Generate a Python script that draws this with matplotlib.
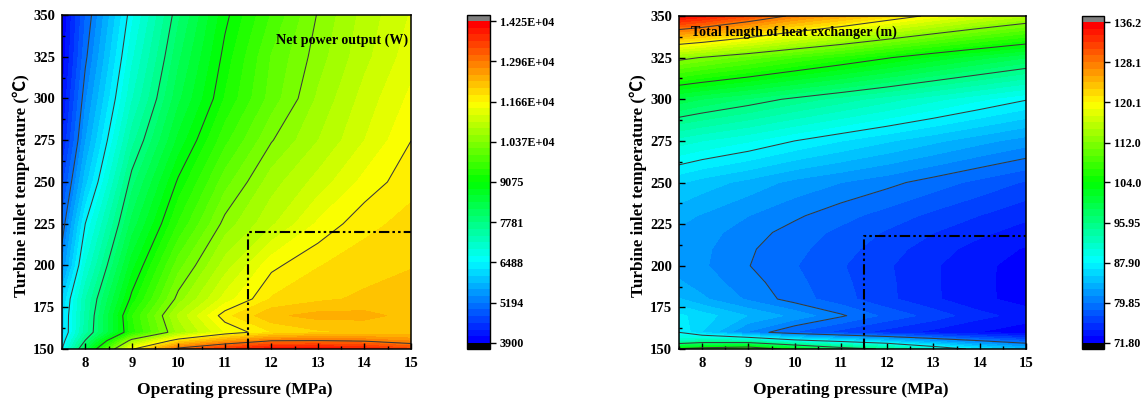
import numpy as np
import matplotlib
matplotlib.use('Agg')
import matplotlib.pyplot as plt
from matplotlib.colors import LinearSegmentedColormap
from matplotlib.ticker import MultipleLocator

pressure = [7.5, 8, 9, 10, 11, 12, 13, 14, 15]
power_temps = [150, 155, 160, 170, 180, 200, 225, 250, 275, 300, 325, 350]
length_temps = [150, 155, 160, 170, 180, 190, 200, 210, 220, 230, 250, 275, 300, 325, 350]

# net power output (W), one row per temperature
net_power = [
    [6480, 8300, 11600, 13100, 13650, 14000, 14050, 13850, 13450],
    [6300, 7800, 10550, 11900, 12500, 12940, 12960, 12900, 12700],
    [6130, 7450, 9400, 10650, 11450, 11870, 12050, 12120, 12130],
    [6140, 7380, 9485, 10835, 11800, 12260, 12390, 12380, 12230],
    [6040, 7320, 9160, 10470, 11320, 11900, 12040, 12140, 12200],
    [5400, 6911, 8763, 10062, 10900, 11600, 11866, 11990, 12080],
    [5018, 6488, 8287, 9523, 10457, 10970, 11485, 11813, 11950],
    [4670, 5955, 7905, 9128, 10060, 10700, 11100, 11519, 11810],
    [4300, 5600, 7470, 8700, 9650, 10350, 10795, 11230, 11660],
    [4100, 5360, 7104, 8370, 9306, 10030, 10620, 11100, 11500],
    [3950, 5130, 6862, 8156, 9160, 9950, 10480, 10950, 11350],
    [3910, 4970, 6640, 7950, 9000, 9740, 10390, 10880, 11250],
]

# total length of heat exchanger (m)
hx_length = [
    [104.5, 106, 107.5, 102.5, 98, 95.3, 90.5, 86.8, 84],
    [91.5, 93, 92.5, 88.9, 86.8, 84.5, 82, 79.85, 78],
    [87.9, 85.2, 81, 78.4, 76.6, 75.2, 74, 73.1, 72.2],
    [86.9, 85.9, 83.8, 82.1, 80.1, 78.1, 76.6, 74.9, 73.9],
    [84, 82.8, 80.95, 79.2, 77.7, 76.15, 74.7, 73.5, 72.5],
    [82.7, 81.9, 80.4, 78.9, 77.5, 76.1, 74.65, 73.5, 72.45],
    [81.9, 81.4, 79.9, 78.6, 77.3, 76, 74.65, 73.5, 72.5],
    [82, 81.5, 80.05, 78.9, 77.7, 76.4, 75.1, 73.9, 73],
    [82.3, 81.8, 80.45, 79.3, 78.15, 77, 75.85, 74.8, 73.85],
    [83, 82.4, 81.2, 80.1, 79, 77.9, 76.8, 75.8, 74.8],
    [85.4, 84.6, 83.4, 82.1, 81.2, 80.3, 79.2, 78.1, 77],
    [91.3, 90.6, 89.4, 87.9, 86.6, 85.4, 84.2, 83, 81.9],
    [99.5, 98.6, 97.1, 95.5, 94, 92.5, 91, 89.5, 88.05],
    [112.9, 111.9, 110, 108, 106.1, 104.2, 102.2, 100.4, 98.7],
    [135.5, 134.3, 131, 127.5, 124.9, 122, 119.4, 117, 114.9],
]

power_ticks = [3900, 5194, 6488, 7781, 9075, 10370, 11660, 12960, 14250]
power_labels = ['3900', '5194', '6488', '7781', '9075', '1.037E+04', '1.166E+04', '1.296E+04', '1.425E+04']
length_ticks = [71.80, 79.85, 87.90, 95.95, 104.0, 112.0, 120.1, 128.1, 136.2]
length_labels = ['71.80', '79.85', '87.90', '95.95', '104.0', '112.0', '120.1', '128.1', '136.2']

W, H = 1148, 403
serif = ['Liberation Serif', 'Noto Sans CJK SC', 'DejaVu Sans']
plt.rcParams['font.family'] = serif
plt.rcParams['font.weight'] = 'bold'

cmap = LinearSegmentedColormap.from_list('rb', ['#0000ff', '#00ffff', '#00ff00', '#ffff00', '#ff0000'], N=48)
cmap.set_under('black')
cmap.set_over('#808080')

fig = plt.figure(figsize=(W / 100, H / 100), dpi=100)


def px_axes(x0, x1, y0, y1):
    return fig.add_axes([x0 / W, 1 - y1 / H, (x1 - x0) / W, (y1 - y0) / H])


def panel(box, cbox, temps, z, ticks, labels, title, tx, ty, ymark, ylab_x):
    ax = px_axes(*box)
    cax = px_axes(*cbox)
    levels = np.linspace(ticks[0], ticks[-1], 49)
    cf = ax.contourf(pressure, temps, z, levels=levels, cmap=cmap, extend='both')
    ax.contour(pressure, temps, z, levels=levels[6:48:6], colors='#3a3a3a', linewidths=0.75)
    ax.plot([11.5, 11.5, 15], [150, ymark, ymark], color='black', lw=1.5, ls=(0, (5, 1.5, 1.2, 1.5, 1.2, 1.5)))
    ax.set_xlim(7.5, 15)
    ax.set_ylim(150, 350)
    ax.xaxis.set_major_locator(MultipleLocator(1))
    ax.xaxis.set_minor_locator(MultipleLocator(0.5))
    ax.yaxis.set_major_locator(MultipleLocator(25))
    ax.yaxis.set_minor_locator(MultipleLocator(12.5))
    ax.tick_params(which='major', direction='in', length=4.5, width=1, labelsize=10.5)
    ax.tick_params(axis='x', which='major', pad=6)
    ax.tick_params(axis='y', which='major', pad=5)
    ax.tick_params(which='minor', direction='in', length=2.5, width=1)
    for s in ax.spines.values():
        s.set_linewidth(1.1)
    ax.set_xlabel('Operating pressure (MPa)', fontsize=12.5, fontweight='bold', va='center')
    ax.set_ylabel('Turbine inlet temperature (℃)', fontsize=12.3, fontweight='bold', va='center')
    ax.xaxis.set_label_coords(0.495, -0.123)
    ax.yaxis.set_label_coords(ylab_x, 0.49)
    ax.text(tx, ty, title, fontsize=10.1, fontweight='bold', va='center', ha='left')

    cb = fig.colorbar(cf, cax=cax, extend='both', extendrect=True, extendfrac=0.0187, drawedges=False)
    cb.set_ticks(ticks)
    cb.set_ticklabels(labels)
    cb.minorticks_off()
    cb.ax.tick_params(length=4, width=1, labelsize=8.7, pad=3)
    cb.outline.set_linewidth(1)
    return ax


panel((62, 411, 15, 349), (467, 490, 15, 349), power_temps, net_power, power_ticks, power_labels,
      'Net power output (W)', 12.1, 335, 220, -0.118)
panel((679, 1026, 16, 349), (1082, 1104, 16, 349), length_temps, hx_length, length_ticks, length_labels,
      'Total length of heat exchanger (m)', 7.75, 340, 218, -0.116)

fig.savefig('out.png', dpi=100)
